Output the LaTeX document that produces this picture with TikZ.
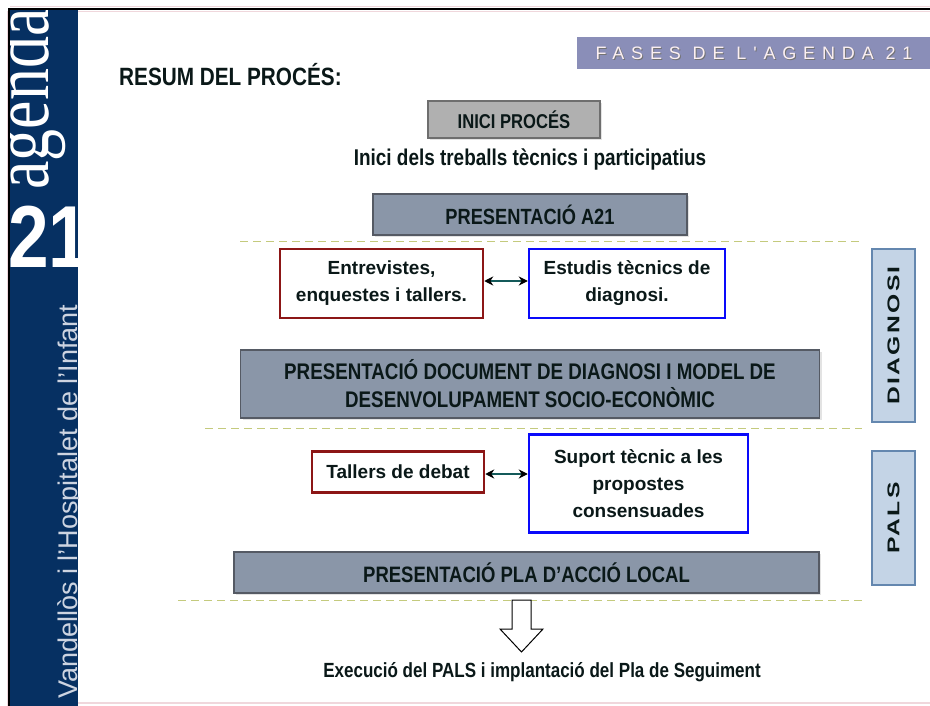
\documentclass[tikz,border=0pt]{standalone}
\usepackage{fontspec}
\setmainfont{Liberation Sans}
\newfontfamily\condf[FakeStretch=0.83]{Liberation Sans}
\newfontfamily\spacedf[LetterSpace=38]{Liberation Sans}
\newfontfamily\widef[FakeStretch=1.45,LetterSpace=14]{Liberation Sans}
\newfontfamily\agserif[FakeStretch=0.8]{Liberation Serif}
\usetikzlibrary{arrows.meta,shadows}
\definecolor{navy}{RGB}{6,48,98}
\definecolor{sidetext}{RGB}{205,212,225}
\definecolor{inicigray}{RGB}{176,176,176}
\definecolor{iniciborder}{RGB}{110,110,110}
\definecolor{slate}{RGB}{138,150,168}
\definecolor{slateborder}{RGB}{85,90,100}
\definecolor{dashcol}{RGB}{196,202,125}
\definecolor{darkred}{RGB}{140,22,22}
\definecolor{pureblue}{RGB}{10,10,250}
\definecolor{sidefill}{RGB}{196,212,230}
\definecolor{sideborder}{RGB}{100,135,175}
\definecolor{banner}{RGB}{138,142,184}
\definecolor{bannertext}{RGB}{252,240,242}
\definecolor{txt}{RGB}{10,24,24}
\definecolor{arrline}{RGB}{20,90,90}
\definecolor{pinkline}{RGB}{240,215,220}
\begin{document}
\begin{tikzpicture}[x=1pt,y=-1pt,
  condtxt/.style={font=\condf\bfseries\fontsize{#1}{28}\selectfont, text=txt},
  softshadow/.style={drop shadow={opacity=0.22, shadow xshift=2pt, shadow yshift=-2pt}},
  graybox/.style={draw=iniciborder, fill=inicigray, line width=1.2pt, inner sep=0pt, softshadow},
  slatebox/.style={draw=slateborder, fill=slate, line width=1.2pt, inner sep=0pt, align=center, softshadow},
  framebox/.style={line width=2.5pt, fill=white, inner sep=0pt, align=center, text=txt,
     font=\bfseries\fontsize{19}{27}\selectfont},
  sidebox/.style={draw=sideborder, fill=sidefill, line width=1.5pt, inner sep=0pt, minimum width=43pt},
  dashline/.style={draw=dashcol, line width=1.9pt, dash pattern=on 8pt off 5pt},
  dblarrow/.style={draw=arrline, line width=1.1pt,
     {Stealth[length=9pt,width=9pt,color=black]}-{Stealth[length=9pt,width=9pt,color=black]}},
  sidelabel/.style={rotate=90, font=\widef\bfseries\fontsize{17}{17}\selectfont, text=txt}
]
\useasboundingbox (0,0) rectangle (930,706);
\fill[white] (0,0) rectangle (930,706);

% side bar
\fill[navy] (10,9) rectangle (78,706);
\begin{scope}
  \clip (10,9) rectangle (78,706);
  \node[rotate=90, anchor=base west, inner sep=0pt, text=white,
        font=\agserif\fontsize{80}{80}\selectfont] (ag) at (48,190) {agenda};
  \node[anchor=base west, inner sep=0pt, text=white,
        font=\condf\bfseries\fontsize{88}{88}\selectfont] (tw) at (8,268) {21};
  \node[rotate=90, anchor=base west, inner sep=0pt, text=sidetext,
        font=\fontsize{27}{27}\selectfont] (vand) at (77,699) {Vandellòs i l'Hospitalet de l'Infant};
\end{scope}
\draw[black, line width=2pt] (9,706) -- (9,9) -- (930,9);
\draw[pinkline, line width=0.8pt] (7.5,11) -- (7.5,706);
\draw[pinkline, line width=0.8pt] (10,6.8) -- (930,6.8);
\draw[pinkline, line width=0.8pt] (78,11.2) -- (930,11.2);
\draw[pinkline, line width=1.2pt] (78,703) -- (930,703);

% banner
\fill[banner] (577,37) rectangle (930,69);
\node[inner sep=0pt, text=black!55, font=\spacedf\fontsize{18}{18}\selectfont] at (755,54.2) {FASES DE L'AGENDA 21};
\node[inner sep=0pt, text=bannertext, font=\spacedf\fontsize{18}{18}\selectfont] (fases) at (754,53) {FASES DE L'AGENDA 21};

% title
\node[anchor=west, inner sep=0pt, condtxt=25] (title) at (119,75) {RESUM DEL PROCÉS:};

% process
\node[graybox, minimum width=172pt, minimum height=37pt, condtxt=20] (inici) at (514,119.5) {INICI PROCÉS};
\node[inner sep=0pt, condtxt=22.8] (treballs) at (530,160) {Inici dels treballs tècnics i participatius};
\node[slatebox, minimum width=314pt, minimum height=41pt, condtxt=22] (pa21) at (530,214.5) {PRESENTACIÓ A21};
\draw[dashline] (240,241.5) -- (862,241.5);

\node[framebox, draw=darkred, minimum width=203pt, minimum height=69pt] (entrev) at (381.5,283.5) {Entrevistes,\\enquestes i tallers.};
\node[framebox, draw=pureblue, minimum width=196pt, minimum height=69pt] (estudis) at (627,283.5) {Estudis tècnics de\\diagnosi.};
\draw[dblarrow] (entrev.east |- 0,281) -- (estudis.west |- 0,281);

\node[slatebox, minimum width=579pt, minimum height=68pt, condtxt=22.6] (pdoc) at (530,384)
      {PRESENTACIÓ DOCUMENT DE DIAGNOSI I MODEL DE\\DESENVOLUPAMENT SOCIO-ECONÒMIC};
\draw[dashline] (205,428.5) -- (862,428.5);

\node[framebox, draw=darkred, minimum width=172pt, minimum height=41pt] (tallers) at (398,472) {Tallers de debat};
\node[framebox, draw=pureblue, minimum width=219pt, minimum height=98pt] (suport) at (638.5,483.5) {Suport tècnic a les\\propostes\\consensuades};
\draw[dblarrow] (tallers.east |- 0,474) -- (suport.west |- 0,474);

\node[slatebox, minimum width=585pt, minimum height=41pt, condtxt=22.3] (ppla) at (526.5,572.5) {PRESENTACIÓ PLA D’ACCIÓ LOCAL};
\draw[dashline] (178,600.5) -- (862,600.5);

\node[inner sep=0pt, condtxt=20.5] (exec) at (542,672) {Execució del PALS i implantació del Pla de Seguiment};
\coordinate (atop) at (521.5,600);
\draw[black, line width=1pt, fill=white]
  ([xshift=-9.5pt]atop) -- ([xshift=9.5pt]atop) -- ([xshift=9.5pt,yshift=-29pt]atop)
  -- ([xshift=21.5pt,yshift=-29pt]atop) -- ([yshift=-52pt]atop)
  -- ([xshift=-21.5pt,yshift=-29pt]atop) -- ([xshift=-9.5pt,yshift=-29pt]atop) -- cycle;

% phase labels
\node[sidebox, minimum height=173pt] (diag) at (893.5,335.5) {};
\node[sidelabel] at (diag.center) {DIAGNOSI};
\node[sidebox, minimum height=134pt] (pals) at (893.5,518) {};
\node[sidelabel] at (pals.center) {PALS};
\end{tikzpicture}
\end{document}
